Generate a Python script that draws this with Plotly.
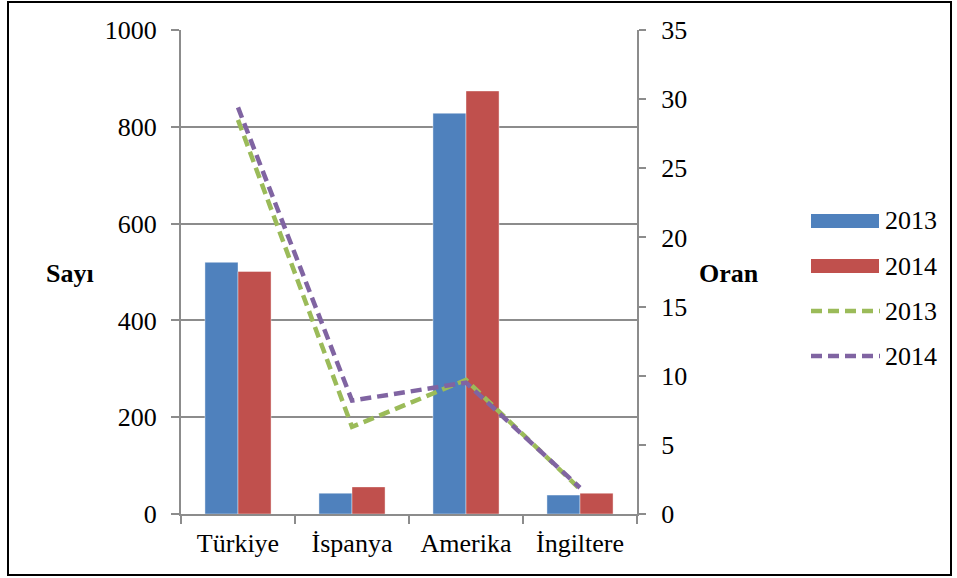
import plotly.graph_objects as go

categories = ["Türkiye", "İspanya", "Amerika", "İngiltere"]
sayi_2013 = [520, 43, 828, 39]
sayi_2014 = [501, 56, 874, 43]
oran_2013 = [28.5, 6.3, 9.7, 1.8]
oran_2014 = [29.4, 8.2, 9.5, 1.9]
series_names = ["2013", "2014"]

BLUE = "#4F81BD"
RED = "#C0504D"
GREEN = "#9BBB59"
PURPLE = "#8064A2"
GRID = "#8c8c8c"
FONT = "'Liberation Serif', 'Times New Roman', Times, serif"
FS = 26

# plot area in pixels
L, R, T, B = 181, 637, 30, 514
W, H = 957, 578

def px_x(x):
    return (x - L) / (R - L)

def px_y(y):
    return (B - y) / (B - T)

fig = go.Figure()
fig.add_trace(go.Bar(x=categories, y=sayi_2013, name=series_names[0],
                     marker=dict(color=BLUE, line=dict(color="rgba(255,255,255,0.4)", width=1))))
fig.add_trace(go.Bar(x=categories, y=sayi_2014, name=series_names[1],
                     marker=dict(color=RED, line=dict(color="rgba(255,255,255,0.4)", width=1))))
fig.add_trace(go.Scatter(x=categories, y=oran_2013, name=series_names[0], yaxis="y2",
                         mode="lines", line=dict(color=GREEN, width=4.5, dash="11px,6px")))
fig.add_trace(go.Scatter(x=categories, y=oran_2014, name=series_names[1], yaxis="y2",
                         mode="lines", line=dict(color=PURPLE, width=4.5, dash="11px,6px")))

shapes = [
    dict(type="rect", xref="paper", yref="paper",
         x0=px_x(8), x1=px_x(951), y0=px_y(575), y1=px_y(2),
         line=dict(color="black", width=2), layer="below"),
    dict(type="rect", xref="paper", yref="paper",
         x0=px_x(811), x1=px_x(879), y0=px_y(228), y1=px_y(214),
         fillcolor=BLUE, line=dict(width=0)),
    dict(type="rect", xref="paper", yref="paper",
         x0=px_x(811), x1=px_x(879), y0=px_y(273), y1=px_y(259),
         fillcolor=RED, line=dict(width=0)),
    dict(type="line", xref="paper", yref="paper",
         x0=px_x(811), x1=px_x(880), y0=px_y(311), y1=px_y(311),
         line=dict(color=GREEN, width=4.5, dash="11px,6px")),
    dict(type="line", xref="paper", yref="paper",
         x0=px_x(811), x1=px_x(880), y0=px_y(356), y1=px_y(356),
         line=dict(color=PURPLE, width=4.5, dash="11px,6px")),
]

annotations = [
    dict(text="<b>Sayı</b>", xref="paper", yref="paper", x=px_x(70), y=px_y(273),
         showarrow=False, xanchor="center", yanchor="middle",
         font=dict(family=FONT, size=FS, color="black")),
    dict(text="<b>Oran</b>", xref="paper", yref="paper", x=px_x(729), y=px_y(273),
         showarrow=False, xanchor="center", yanchor="middle",
         font=dict(family=FONT, size=FS, color="black")),
]
for name, yc in zip(series_names * 2, [221, 266, 311, 356]):
    annotations.append(dict(text=name, xref="paper", yref="paper", x=px_x(883), y=px_y(yc),
                            showarrow=False, xanchor="left", yanchor="middle",
                            font=dict(family=FONT, size=FS, color="black")))

fig.update_layout(
    width=W, height=H,
    margin=dict(l=L, r=W - R, t=T, b=H - B, pad=0),
    paper_bgcolor="white", plot_bgcolor="white",
    showlegend=False,
    barmode="group", bargap=0.42, bargroupgap=0,
    font=dict(family=FONT, size=FS, color="black"),
    xaxis=dict(type="category", range=[-0.5, 3.5], showgrid=False,
               showline=True, linecolor=GRID, linewidth=2,
               ticks="outside", tickson="boundaries", ticklen=8, tickcolor=GRID, tickwidth=2,
               tickfont=dict(family=FONT, size=FS), ticklabelstandoff=5),
    yaxis=dict(range=[0, 1000], dtick=200, showgrid=True, gridcolor=GRID, gridwidth=2,
               showline=True, linecolor=GRID, linewidth=2, zeroline=False,
               ticks="outside", ticklen=8, tickcolor=GRID, tickwidth=2,
               tickfont=dict(family=FONT, size=FS), ticklabelstandoff=9),
    yaxis2=dict(range=[0, 35], dtick=5, overlaying="y", side="right", showgrid=False,
                showline=True, linecolor=GRID, linewidth=2, zeroline=False,
                ticks="outside", ticklen=7, tickcolor=GRID, tickwidth=2,
                tickfont=dict(family=FONT, size=FS), ticklabelstandoff=10),
    shapes=shapes, annotations=annotations,
)

fig.write_html("out.html", config={"displayModeBar": False},
               post_script="document.body.style.margin='0';document.body.style.overflow='hidden';")
